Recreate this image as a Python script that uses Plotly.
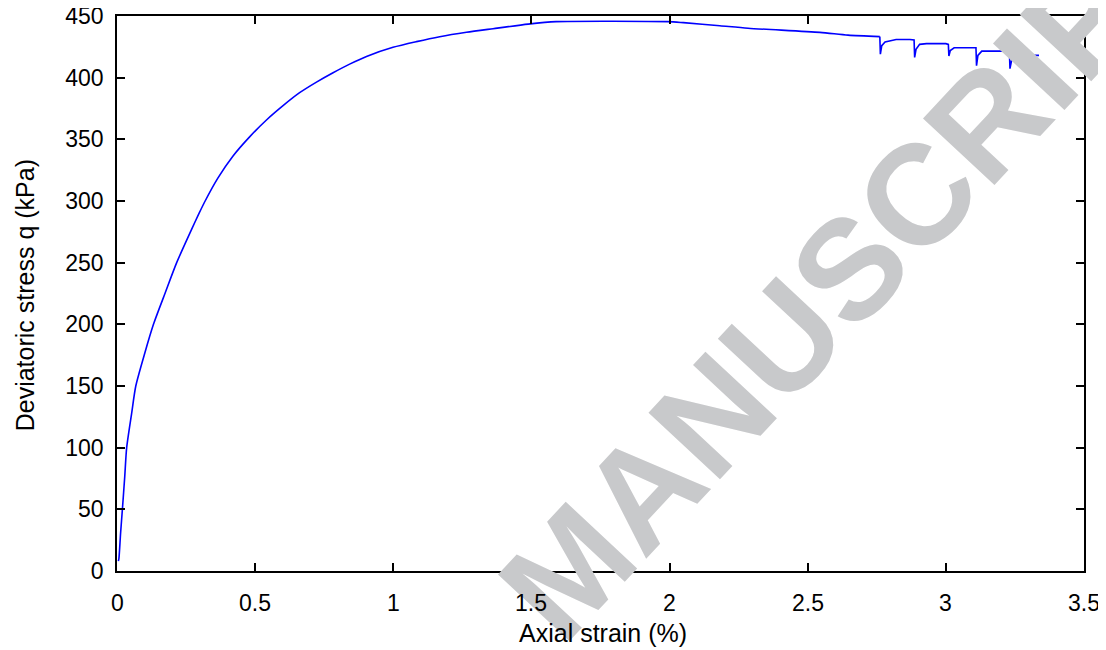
import plotly.graph_objects as go

# Axial strain (%) and deviatoric stress q (kPa)
strain = [0.005, 0.007, 0.013, 0.0195, 0.028, 0.035, 0.053, 0.068, 0.101, 0.132,
          0.174, 0.216, 0.270, 0.296, 0.319, 0.365, 0.420, 0.480, 0.541, 0.601,
          0.661, 0.722, 0.782, 0.842, 0.903, 0.999, 1.084, 1.168, 1.265, 1.361,
          1.488, 1.589, 1.994, 2.05, 2.182, 2.284, 2.544, 2.646, 2.761,
          2.763, 2.768, 2.78, 2.80, 2.82, 2.870, 2.885,
          2.887, 2.892, 2.905, 2.93, 3.000, 3.009,
          3.011, 3.016, 3.03, 3.109,
          3.111, 3.116, 3.13, 3.23,
          3.232, 3.238, 3.25, 3.266, 3.27, 3.285, 3.29, 3.337]
stress = [8.0, 10.3, 30.6, 50.0, 76.5, 100.0, 127.8, 150.0, 177.0, 200.0,
          225.2, 250.0, 277.0, 289.5, 300.0, 318.5, 336.5, 352.0, 365.7, 377.3,
          387.8, 396.4, 404.0, 411.0, 417.2, 424.6, 429.2, 433.2, 436.8, 439.7,
          443.4, 445.4, 445.4, 444.6, 442.1, 440.1, 436.7, 434.5, 433.3,
          419.1, 426.0, 429.0, 430.0, 431.0, 431.0, 430.5,
          416.4, 423.0, 427.0, 427.6, 427.6, 427.0,
          417.5, 422.0, 424.2, 424.2,
          409.7, 418.0, 421.5, 421.5,
          407.3, 414.0, 417.5, 418.0, 419.8, 419.5, 418.1, 418.1]
n_smooth = 39  # points before the first unloading drop

x_ticks = [0, 0.5, 1, 1.5, 2, 2.5, 3, 3.5]
x_tick_labels = ["0", "0.5", "1", "1.5", "2", "2.5", "3", "3.5"]
y_ticks = [0, 50, 100, 150, 200, 250, 300, 350, 400, 450]
y_tick_labels = [str(v) for v in y_ticks]
x_title = "Axial strain (%)"
y_title = "Deviatoric stress q (kPa)"
watermark = "MANUSCRIPT"

FONT = "Liberation Sans, Arial, Helvetica, sans-serif"
TICK_SIZE = 23

fig = go.Figure()
fig.add_trace(go.Scatter(x=strain[:n_smooth], y=stress[:n_smooth], mode="lines",
                         line=dict(color="#0000ff", width=1.6, shape="spline", smoothing=0.7),
                         showlegend=False, hoverinfo="skip"))
fig.add_trace(go.Scatter(x=strain[n_smooth - 1:], y=stress[n_smooth - 1:], mode="lines",
                         line=dict(color="#0000ff", width=1.6),
                         showlegend=False, hoverinfo="skip"))

axis_common = dict(showline=True, linecolor="black", linewidth=1.5, mirror="ticks",
                   ticks="inside", ticklen=8, tickwidth=1.5, tickcolor="black",
                   showgrid=False, zeroline=False, automargin=False,
                   ticklabeloverflow="allow",
                   tickfont=dict(family=FONT, size=TICK_SIZE, color="black"))

# x tick labels are drawn as annotations (after the watermark) so they sit on top of it
fig.update_xaxes(range=[0, 3.5], tickvals=x_ticks, showticklabels=False, **axis_common)
fig.update_yaxes(range=[0, 450], tickvals=y_ticks, ticktext=y_tick_labels,
                 ticklabelstandoff=7, **axis_common)

# watermark (drawn first among annotations, so texts come on top)
fig.add_annotation(text="<b>" + watermark + "</b>", xref="paper", yref="paper",
                   x=0.758, y=0.547, xanchor="center", yanchor="middle",
                   textangle=-47, showarrow=False,
                   font=dict(family="Liberation Sans, Arial, sans-serif", size=142, color="#c8c9cb"))

# x tick labels
for v, lab in zip(x_ticks, x_tick_labels):
    fig.add_annotation(text=lab, xref="x", yref="paper", x=v, y=-0.0577,
                       xanchor="center", yanchor="middle", showarrow=False,
                       font=dict(family=FONT, size=TICK_SIZE, color="black"))

# axis titles
fig.add_annotation(text=x_title, xref="paper", yref="paper", x=0.503, y=-0.112,
                   xanchor="center", yanchor="middle", showarrow=False,
                   font=dict(family=FONT, size=25, color="black"))
fig.add_annotation(text=y_title, xref="paper", yref="paper", x=-0.095, y=0.497,
                   xanchor="center", yanchor="middle", textangle=-90, showarrow=False,
                   font=dict(family=FONT, size=25, color="black"))

# page body has an 8px default margin: figure is sized to fill the rest of the window
fig.update_layout(width=1098, height=642, autosize=False,
                  margin=dict(l=109, r=22, t=8, b=79, autoexpand=False),
                  paper_bgcolor="white", plot_bgcolor="white",
                  font=dict(family=FONT, size=TICK_SIZE, color="black"))

fig.write_html("out.html")
